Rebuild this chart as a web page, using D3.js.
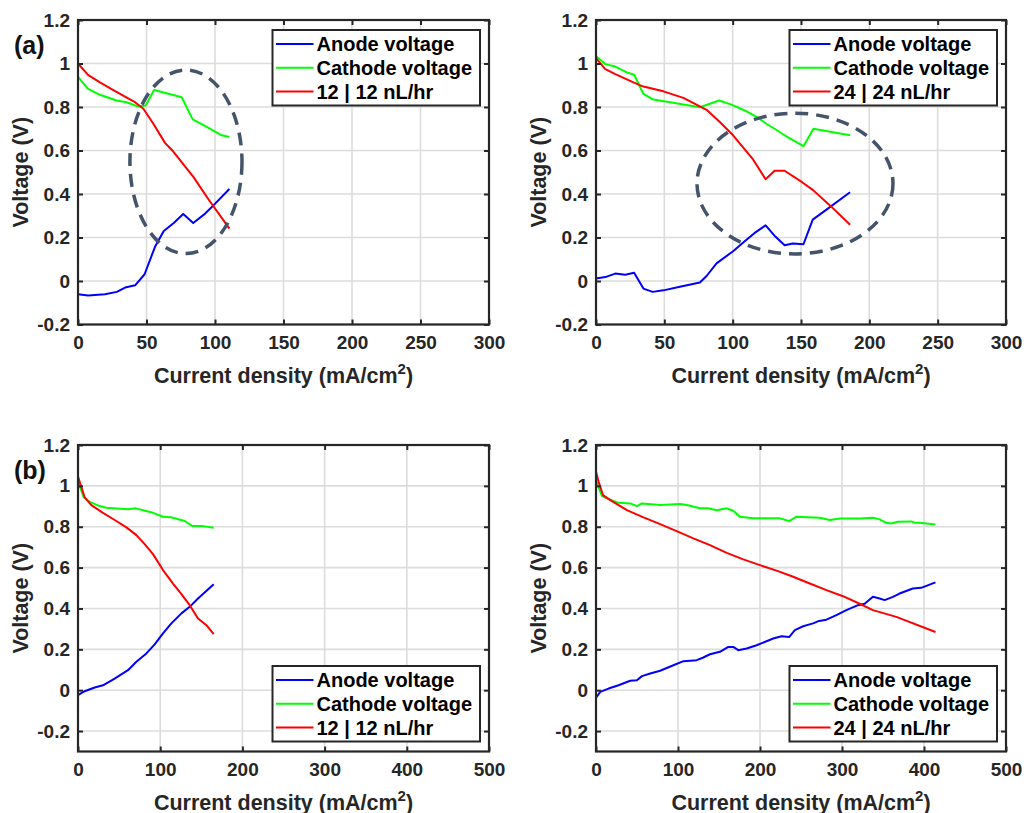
<!DOCTYPE html>
<html>
<head>
<meta charset="utf-8">
<script src="https://cdn.jsdelivr.net/npm/d3@7/dist/d3.min.js"></script>
<style>
  body { margin: 0; background: #fff; }
  text { font-family: "Liberation Sans", Arial, sans-serif; font-weight: bold; }
</style>
</head>
<body>
<svg id="chart" width="1024" height="813"></svg>
<script>
// ---------------- data ----------------
var yTicks = [-0.2, 0, 0.2, 0.4, 0.6, 0.8, 1, 1.2];
var xTicksTop = [0, 50, 100, 150, 200, 250, 300];
var xTicksBottom = [0, 100, 200, 300, 400, 500];
var seriesNames = ["Anode voltage", "Cathode voltage"];
var flowLabels = ["12 | 12 nL/hr", "24 | 24 nL/hr"];
var seriesColors = ["#0000ff", "#00ff00", "#ff0000"];

// (a) 12 | 12 nL/hr
var anodeA12 = [[0,-0.061],[7.4,-0.067],[19.7,-0.061],[28.3,-0.05],[34.4,-0.03],[41.7,-0.02],[48.6,0.031],
  [56.4,0.16],[62.6,0.23],[69.9,0.267],[76.8,0.308],[84.1,0.267],[91.9,0.305],[99.2,0.35],[110.5,0.423]];
var cathodeA12 = [[0,0.939],[7.3,0.883],[16,0.856],[28.2,0.83],[35.5,0.822],[44,0.802],[49.4,0.807],
  [55.5,0.878],[64.7,0.863],[75.7,0.845],[83.7,0.743],[92,0.716],[104.9,0.67],[110.5,0.662]];
var cellA12 = [[0,1.0],[7.3,0.948],[16,0.913],[25.8,0.878],[34.3,0.848],[41.6,0.822],[47.7,0.792],
  [55,0.723],[63.5,0.635],[69.7,0.594],[84.2,0.479],[95.2,0.376],[110.5,0.241]];

// (a) 24 | 24 nL/hr
var anodeA24 = [[0,0.012],[6.8,0.018],[14.1,0.034],[21.4,0.029],[27.9,0.038],[34.7,-0.035],[41.5,-0.05],
  [49.3,-0.043],[61.4,-0.026],[76,-0.007],[80.9,0.023],[88.2,0.081],[100.3,0.137],[108.8,0.183],
  [116.1,0.221],[124.1,0.256],[131.4,0.203],[138,0.164],[144,0.172],[151.8,0.169],[158.6,0.282],
  [168.4,0.327],[185.9,0.408]];
var cathodeA24 = [[0,1.035],[6.8,0.997],[14.1,0.986],[22.6,0.959],[27.9,0.948],[34.7,0.86],[42,0.834],
  [54.2,0.822],[76,0.799],[90.1,0.83],[99.1,0.811],[108.8,0.784],[118.5,0.751],[124.6,0.723],
  [130.7,0.7],[138,0.67],[151.8,0.62],[159.1,0.7],[185.9,0.67]];
var cellA24 = [[0,1.025],[6.8,0.974],[14.1,0.951],[27.4,0.913],[34.7,0.894],[49.3,0.872],[63.9,0.842],
  [80.9,0.787],[90.6,0.731],[100.3,0.67],[114.9,0.559],[124.1,0.468],[130.7,0.507],[138,0.507],
  [151.3,0.452],[158.6,0.419],[172,0.343],[185.9,0.259]];

// (b) 12 | 12 nL/hr
var anodeB12 = [[0,-0.024],[8.1,-0.005],[20.3,0.013],[30.4,0.024],[44.6,0.057],[60.8,0.098],[71,0.139],
  [83.2,0.18],[93.3,0.224],[103.4,0.278],[113.6,0.327],[125.8,0.376],[135.9,0.408],[146,0.449],[165.1,0.519]];
var cathodeB12 = [[0,1.023],[7,0.944],[14.2,0.922],[26.4,0.901],[34.5,0.893],[60.8,0.885],[70.2,0.89],
  [91.2,0.868],[103.4,0.849],[113.1,0.846],[129.8,0.828],[139.2,0.803],[152.1,0.803],[165.1,0.795]];
var cellB12 = [[0,1.045],[8.1,0.944],[16.2,0.906],[30.4,0.868],[44.6,0.833],[58.9,0.797],[71,0.759],
  [81.1,0.715],[91.2,0.666],[103.4,0.588],[115.6,0.522],[125.8,0.47],[135.9,0.416],[146,0.351],
  [156.2,0.318],[165.1,0.274]];

// (b) 24 | 24 nL/hr
var anodeB24 = [[0,-0.037],[5.2,-0.008],[15.3,0.008],[27.5,0.024],[41.7,0.046],[49.9,0.049],[56,0.069],
  [66.1,0.082],[78.2,0.095],[94.4,0.122],[106.6,0.142],[122.9,0.147],[130.9,0.16],[139,0.176],
  [151.2,0.188],[161.3,0.212],[167.4,0.212],[173.5,0.196],[183.7,0.204],[195.9,0.22],[216.1,0.253],
  [226.3,0.264],[235.5,0.26],[242.5,0.294],[252.6,0.313],[264.7,0.327],[272,0.339],[281,0.345],
  [293.2,0.367],[305.4,0.392],[319.5,0.416],[327.6,0.423],[337.7,0.457],[345.9,0.449],[352,0.441],
  [362.1,0.457],[370.2,0.473],[386.4,0.498],[396.5,0.501],[414,0.528]];
var cathodeB24 = [[0,1.028],[7.3,0.95],[13.4,0.939],[27.5,0.917],[41.7,0.914],[49.9,0.901],[56,0.914],
  [78.2,0.906],[102.6,0.911],[110.7,0.906],[126.9,0.89],[136.6,0.89],[147.2,0.881],[159.4,0.89],
  [167.4,0.878],[175.5,0.849],[191.7,0.841],[224.2,0.841],[235.5,0.828],[244.5,0.849],[272.9,0.844],
  [285,0.833],[297.2,0.84],[321.5,0.84],[337.7,0.844],[345.9,0.836],[354,0.819],[360.1,0.816],
  [368.2,0.824],[384.4,0.826],[388.4,0.82],[394.5,0.82],[414,0.811]];
var cellB24 = [[0,1.069],[3.2,1.02],[8.5,0.955],[17.4,0.93],[37.7,0.881],[57.9,0.846],[78.2,0.813],
  [100.5,0.775],[118.7,0.743],[139,0.71],[159.4,0.672],[179.6,0.64],[199.9,0.612],[220.2,0.585],
  [240.4,0.555],[260.7,0.522],[281,0.49],[301.2,0.46],[321.5,0.423],[337.7,0.392],[366.2,0.359],
  [414,0.285]];

// dashed ellipses, in data units: [cx, cy, rx, ry]
var ringA12 = [78.8, 0.548, 40.9, 0.422];
var ringA24 = [145.6, 0.448, 71.7, 0.3235];

// ---------------- drawing ----------------
var svg = d3.select("#chart");
var axisColor = "#262626";

function drawPanel(p) {
  var x = d3.scaleLinear().domain([0, p.xmax]).range([p.left, p.right]);
  var y = d3.scaleLinear().domain([p.ymin, 1.2]).range([p.bottom, p.top]);
  var g = svg.append("g");

  // grid
  g.selectAll(".gx").data(p.xTicks).enter().append("line")
    .attr("x1", function(d){ return x(d); }).attr("x2", function(d){ return x(d); })
    .attr("y1", p.top).attr("y2", p.bottom)
    .attr("stroke", "#dcdcdc").attr("stroke-width", 1.6);
  g.selectAll(".gy").data(yTicks).enter().append("line")
    .attr("y1", function(d){ return y(d); }).attr("y2", function(d){ return y(d); })
    .attr("x1", p.left).attr("x2", p.right)
    .attr("stroke", "#dcdcdc").attr("stroke-width", 1.6);

  var line = d3.line().x(function(d){ return x(d[0]); }).y(function(d){ return y(d[1]); });
  p.series.forEach(function(s, i) {
    g.append("path").datum(s)
      .attr("d", line)
      .attr("fill", "none")
      .attr("stroke", seriesColors[i])
      .attr("stroke-width", 2)
      .attr("stroke-linejoin", "round");
  });

  // dashed ring sits on top of the lines
  if (p.ring) {
    g.append("ellipse")
      .attr("cx", x(p.ring[0])).attr("cy", y(p.ring[1]))
      .attr("rx", x(p.ring[2]) - x(0)).attr("ry", y(0) - y(p.ring[3]))
      .attr("fill", "none")
      .attr("stroke", "#44546a")
      .attr("stroke-width", 3.5)
      .attr("stroke-dasharray", "13,8");
  }

  // axes with inward ticks on all four sides
  var fmt = function(d){ return String(d); };
  var ax = [
    [d3.axisBottom(x).tickValues(p.xTicks).tickFormat(fmt), 0, p.bottom],
    [d3.axisTop(x).tickValues(p.xTicks).tickFormat(""), 0, p.top],
    [d3.axisLeft(y).tickValues(yTicks).tickFormat(fmt), p.left, 0],
    [d3.axisRight(y).tickValues(yTicks).tickFormat(""), p.right, 0]
  ];
  ax.forEach(function(a, i) {
    var isX = i < 2;
    var ag = g.append("g")
      .attr("transform", "translate(" + a[1] + "," + a[2] + ")")
      .call(a[0].tickSizeInner(-5).tickSizeOuter(0).tickPadding(isX ? 11 : 8));
    ag.select(".domain").remove();
    ag.selectAll(".tick line").attr("stroke", axisColor).attr("stroke-width", 2);
    ag.selectAll(".tick text")
      .attr("fill", axisColor)
      .style("font-size", "19px")
      .style("font-family", '"Liberation Sans", Arial, sans-serif')
      .style("font-weight", "bold");
  });

  g.append("rect")
    .attr("x", p.left).attr("y", p.top)
    .attr("width", p.right - p.left).attr("height", p.bottom - p.top)
    .attr("fill", "none").attr("stroke", axisColor).attr("stroke-width", 2.2);

  // axis titles
  var xt = g.append("text")
    .attr("x", (p.left + p.right) / 2).attr("y", p.bottom + 58)
    .attr("text-anchor", "middle").attr("fill", axisColor)
    .style("font-size", "21.5px");
  xt.append("tspan").text("Current density (mA/cm");
  xt.append("tspan").attr("dy", -9).style("font-size", "15px").text("2");
  xt.append("tspan").attr("dy", 9).text(")");

  g.append("text")
    .attr("transform", "translate(" + (p.left - 50) + "," + ((p.top + p.bottom) / 2) + ") rotate(-90)")
    .attr("text-anchor", "middle").attr("fill", axisColor)
    .style("font-size", "21.5px")
    .text("Voltage (V)");

  if (p.label) {
    g.append("text").attr("x", 14).attr("y", p.top + 34)
      .attr("fill", "#111").style("font-size", "25px").text(p.label);
  }

  // legend
  var lw = 207.5, lh = 75.5;
  var lx = p.right - 9 - lw;
  var ly = p.legendTop ? p.top + 10 : p.bottom - 10 - lh;
  var lg = g.append("g").attr("transform", "translate(" + lx + "," + ly + ")");
  lg.append("rect").attr("width", lw).attr("height", lh)
    .attr("fill", "#fff").attr("stroke", axisColor).attr("stroke-width", 2);
  var names = seriesNames.concat([p.flow]);
  names.forEach(function(n, i) {
    var yy = 14 + i * 23.8;
    lg.append("line").attr("x1", 3.5).attr("x2", 41).attr("y1", yy).attr("y2", yy)
      .attr("stroke", seriesColors[i]).attr("stroke-width", 2);
    lg.append("text").attr("x", 44).attr("y", yy + 7)
      .attr("fill", "#000").style("font-size", "20px").text(n);
  });
}

drawPanel({left: 78, right: 489, top: 20, bottom: 324.5, xmax: 300, ymin: -0.2, xTicks: xTicksTop,
  series: [anodeA12, cathodeA12, cellA12], flow: flowLabels[0], legendTop: true, ring: ringA12, label: "(a)"});
drawPanel({left: 596, right: 1006, top: 20, bottom: 324.5, xmax: 300, ymin: -0.2, xTicks: xTicksTop,
  series: [anodeA24, cathodeA24, cellA24], flow: flowLabels[1], legendTop: true, ring: ringA24});
drawPanel({left: 78, right: 489, top: 445, bottom: 751.5, xmax: 500, ymin: -0.3, xTicks: xTicksBottom,
  series: [anodeB12, cathodeB12, cellB12], flow: flowLabels[0], legendTop: false, label: "(b)"});
drawPanel({left: 596, right: 1006, top: 445, bottom: 751.5, xmax: 500, ymin: -0.3, xTicks: xTicksBottom,
  series: [anodeB24, cathodeB24, cellB24], flow: flowLabels[1], legendTop: false});
</script>
</body>
</html>
